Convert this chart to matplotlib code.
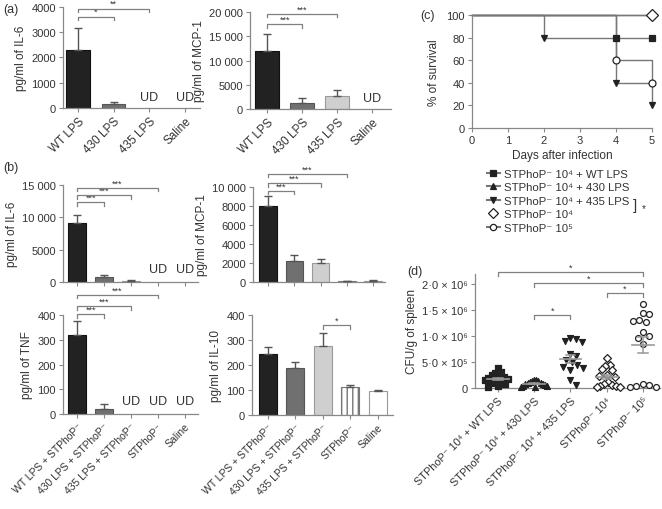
import numpy as np
import matplotlib
matplotlib.use("Agg")
import matplotlib.pyplot as plt
from matplotlib.lines import Line2D

plt.rcParams['font.family'] = ['Liberation Sans', 'DejaVu Sans']
plt.rcParams['font.size'] = 8

# ---------------- data ----------------
a_labels = ['WT LPS', '430 LPS', '435 LPS', 'Saline']
a_il6 = [2300, 150, 0, 0]
a_il6_err = [850, 80, 0, 0]
a_il6_ud = [False, False, True, True]
a_mcp1 = [11900, 1200, 2700, 80]
a_mcp1_err = [3600, 1100, 1300, 0]
a_mcp1_ud = [False, False, False, True]

b_labels = ['WT LPS + STPhoP\u207b', '430 LPS + STPhoP\u207b', '435 LPS + STPhoP\u207b',
            'STPhoP\u207b', 'Saline']
b_il6 = [9100, 800, 220, 0, 0]
b_il6_err = [1300, 300, 60, 0, 0]
b_il6_ud = [False, False, False, True, True]
b_mcp1 = [8000, 2200, 2000, 120, 150]
b_mcp1_err = [1100, 600, 400, 30, 30]
b_tnf = [318, 22, 0, 0, 0]
b_tnf_err = [57, 20, 0, 0, 0]
b_tnf_ud = [False, False, True, True, True]
b_il10 = [243, 190, 278, 112, 96]
b_il10_err = [30, 23, 52, 8, 4]

surv_labels = ['STPhoP\u207b 10\u2074 + WT LPS', 'STPhoP\u207b 10\u2074 + 430 LPS',
               'STPhoP\u207b 10\u2074 + 435 LPS', 'STPhoP\u207b 10\u2074', 'STPhoP\u207b 10\u2075']
surv_days = [[0, 4, 5], [0, 5], [0, 2, 4, 5], [0, 5], [0, 4, 5]]
surv_pct = [[100, 80, 80], [100, 100], [100, 80, 40, 20], [100, 100], [100, 60, 40]]

d_labels = ['STPhoP\u207b 10\u2074 + WT LPS', 'STPhoP\u207b 10\u2074 + 430 LPS',
            'STPhoP\u207b 10\u2074 + 435 LPS', 'STPhoP\u207b 10\u2074', 'STPhoP\u207b 10\u2075']
# CFU/g of spleen, in units of 10^6
d_wt = [0.39, 0.30, 0.29, 0.25, 0.22, 0.20, 0.19, 0.17, 0.15, 0.13, 0.11, 0.09, 0.07, 0.04, 0.01]
d_430 = [0.15, 0.15, 0.14, 0.13, 0.12, 0.10, 0.10, 0.08, 0.07, 0.05, 0.04, 0.03, 0.02, 0.01]
d_435 = [0.97, 0.94, 0.90, 0.88, 0.65, 0.62, 0.55, 0.50, 0.44, 0.41, 0.39, 0.34, 0.15, 0.06]
d_p4 = [0.57, 0.45, 0.43, 0.36, 0.34, 0.26, 0.23, 0.21, 0.12, 0.08, 0.05, 0.04, 0.03, 0.02, 0.01]
d_p5 = [1.63, 1.44, 1.42, 1.31, 1.30, 1.28, 1.08, 1.00, 0.97, 0.84, 0.08, 0.05, 0.04, 0.02, 0.02]

# ---------------- layout helpers ----------------
W, H = 662, 510
fig = plt.figure(figsize=(W / 100, H / 100), dpi=100)


def box(l, t, r, b):
    return [l / W, 1 - b / H, (r - l) / W, (b - t) / H]


AX_COL = '#888888'
TXT_COL = '#333333'
BR_COL = '#808080'


def style(ax):
    for s in ['top', 'right']:
        ax.spines[s].set_visible(False)
    for s in ['left', 'bottom']:
        ax.spines[s].set_color(AX_COL)
        ax.spines[s].set_linewidth(0.9)
    ax.tick_params(colors=AX_COL, labelcolor=TXT_COL, length=3, width=0.8, labelsize=8, pad=2)


bar_colors = ['#222222', '#707070', '#cfcfcf', 'white', 'white']
edge_colors = ['#111111', '#555555', '#999999', '#777777', '#999999']
hatches = [None, None, None, '|||', None]


def bar_panel(rect, vals, errs, ymax, ticks, ticklabels, ylabel, xlim, width,
              labels=None, ud=None, ud_y=None, color_idx=None, xl_size=8.5):
    ax = fig.add_axes(rect)
    style(ax)
    n = len(vals)
    x = np.arange(n)
    ci = color_idx if color_idx is not None else list(range(n))
    for i in range(n):
        if ud is not None and ud[i] and vals[i] == 0:
            continue
        ax.bar(x[i], vals[i], width, color=bar_colors[ci[i]], edgecolor=edge_colors[ci[i]],
               hatch=hatches[ci[i]], linewidth=0.8, zorder=2)
        if errs[i] > 0:
            ax.errorbar(x[i], vals[i], yerr=[[0], [errs[i]]], fmt='none', ecolor='#555555',
                        elinewidth=1, capsize=3, capthick=1, zorder=3)
    if ud is not None:
        for i in range(n):
            if ud[i]:
                ax.text(x[i], ud_y, 'UD', ha='center', va='center', fontsize=9, color=TXT_COL)
    ax.set_xlim(*xlim)
    ax.set_ylim(0, ymax)
    ax.set_yticks(ticks)
    ax.set_yticklabels(ticklabels)
    ax.set_xticks(x)
    if labels is not None:
        ax.set_xticklabels(labels, rotation=45, ha='right', rotation_mode='anchor', fontsize=xl_size)
    else:
        ax.set_xticklabels([])
    ax.set_ylabel(ylabel, fontsize=8.5, color=TXT_COL, labelpad=3)
    return ax


def bracket(ax, x1, x2, y, txt, px_h, drop_px=3.5):
    ylo, yhi = ax.get_ylim()
    d = drop_px / px_h * (yhi - ylo)
    ax.plot([x1, x1, x2, x2], [y - d, y, y, y - d], color=BR_COL, lw=0.9, clip_on=False, zorder=4)
    ax.text((x1 + x2) / 2, y + d * 0.2, txt, ha='center', va='bottom', fontsize=6.5,
            color=TXT_COL, clip_on=False)


# ---------------- (a) ----------------
ax = bar_panel(box(63, 7.5, 200, 109), a_il6, a_il6_err, 4000, [0, 1000, 2000, 3000, 4000],
               ['0', '1000', '2000', '3000', '4000'], 'pg/ml of IL-6', (-0.42, 3.42), 0.65,
               labels=a_labels, ud=a_il6_ud, ud_y=430, color_idx=[0, 1, 2, 4])
bracket(ax, 0, 1, 3600, '*', 101.5)
bracket(ax, 0, 2, 3920, '**', 101.5)

ax = bar_panel(box(250, 13, 391, 110), a_mcp1, a_mcp1_err, 20000, [0, 5000, 10000, 15000, 20000],
               ['0', '5000', '10 000', '15 000', '20 000'], 'pg/ml of MCP-1', (-0.49, 3.54), 0.69,
               labels=a_labels, ud=a_mcp1_ud, ud_y=2300, color_idx=[0, 1, 2, 4])
bracket(ax, 0, 1, 17500, '***', 97)
bracket(ax, 0, 2, 19600, '***', 97)

# ---------------- (b) ----------------
ax = bar_panel(box(63, 186, 198, 283), b_il6, b_il6_err, 15000, [0, 5000, 10000, 15000],
               ['0', '5000', '10 000', '15 000'], 'pg/ml of IL-6', (-0.53, 4.5), 0.66,
               ud=b_il6_ud, ud_y=2000)
bracket(ax, 0, 1, 12370, '***', 97)
bracket(ax, 0, 2, 13450, '***', 97)
bracket(ax, 0, 3, 14540, '***', 97)

ax = bar_panel(box(253, 188, 385, 283), b_mcp1, b_mcp1_err, 10000, [0, 2000, 4000, 6000, 8000, 10000],
               ['0', '2000', '4000', '6000', '8000', '10 000'], 'pg/ml of MCP-1', (-0.57, 4.45), 0.66)
bracket(ax, 0, 1, 9580, '***', 95)
bracket(ax, 0, 2, 10420, '***', 95)
bracket(ax, 0, 3, 11370, '***', 95)

ax = bar_panel(box(63, 316, 198, 415), b_tnf, b_tnf_err, 400, [0, 100, 200, 300, 400],
               ['0', '100', '200', '300', '400'], 'pg/ml of TNF', (-0.53, 4.5), 0.66,
               labels=b_labels, ud=b_tnf_ud, ud_y=52, xl_size=7.5)
bracket(ax, 0, 1, 404, '***', 99)
bracket(ax, 0, 2, 436, '***', 99)
bracket(ax, 0, 3, 481, '***', 99)

ax = bar_panel(box(252, 316, 393, 416), b_il10, b_il10_err, 400, [0, 100, 200, 300, 400],
               ['0', '100', '200', '300', '400'], 'pg/ml of IL-10', (-0.58, 4.55), 0.65,
               labels=b_labels, xl_size=7.5)
bracket(ax, 2, 3, 360, '*', 100)

# ---------------- (c) survival ----------------
axc = fig.add_axes(box(472, 16, 652, 129))
style(axc)
markers = ['s', '^', 'v', 'D', 'o']
mfc = ['#222222', '#222222', '#222222', 'white', 'white']
msz = [4.5, 4.5, 4.5, 6, 5]
order = [4, 0, 2, 1, 3]
for i in order:
    dd = np.array(surv_days[i])
    pp = np.array(surv_pct[i])
    axc.step(dd, pp, where='post', color='#777777', lw=1, zorder=2, clip_on=False)
    axc.plot(dd[1:], pp[1:], ls='none', marker=markers[i], mfc=mfc[i], mec='#222222',
             ms=msz[i], mew=0.9, zorder=3, clip_on=False)
axc.set_xlim(0, 5)
axc.set_ylim(0, 100)
axc.set_xticks(range(6))
axc.set_yticks(range(0, 101, 20))
axc.set_xlabel('Days after infection', fontsize=8.5, color=TXT_COL, labelpad=3)
axc.set_ylabel('% of survival', fontsize=8.5, color=TXT_COL, labelpad=5)
handles = []
for i in range(5):
    ls = 'none' if i == 3 else '-'
    handles.append(Line2D([], [], color='#777777', ls=ls, marker=markers[i], mfc=mfc[i],
                          mec='#222222', ms=msz[i] * 0.9, mew=0.9))
fig.legend(handles, surv_labels, loc='upper left', bbox_to_anchor=(487 / W, 1 - 170 / H),
           frameon=False, handlelength=1.1, handletextpad=0.4, labelspacing=0.3,
           fontsize=8.2, borderaxespad=0, borderpad=0, labelcolor=TXT_COL)
fig.text(633 / W, 1 - 206 / H, ']', fontsize=11, color=TXT_COL, ha='left', va='center')
fig.text(642 / W, 1 - 209 / H, '*', fontsize=7, color=TXT_COL, ha='left', va='center')

# ---------------- (d) CFU ----------------
d_box = (475, 275, 660, 389)
axd = fig.add_axes(box(*d_box))
style(axd)
groups = [d_wt, d_430, d_435, d_p4, d_p5]
dmark = ['s', '^', 'v', 'D', 'o']
dfc = ['#222222', '#222222', '#222222', 'white', 'white']
D_XLIM = (-0.63, 4.47)
D_YMAX = 2.2e6
px_per_x = (d_box[2] - d_box[0]) / (D_XLIM[1] - D_XLIM[0])
px_per_y = (d_box[3] - d_box[1]) / D_YMAX


def beeswarm(vals_abs, dx=6.5, dy=8.0, step=1.0, max_px=13.0):
    # deterministic beeswarm layout computed in pixel space, then compressed to max width
    y = np.asarray(vals_abs) * px_per_y
    order = np.argsort(-y, kind='stable')
    placed = []
    off = np.zeros(len(y))
    for i in order:
        k = 0
        while True:
            cands = [0.0] if k == 0 else [k * step, -k * step]
            found = None
            for c in cands:
                if all(((c - px) / dx) ** 2 + ((y[i] - py) / dy) ** 2 >= 1 for px, py in placed):
                    found = c
                    break
            if found is not None:
                off[i] = found
                placed.append((found, y[i]))
                break
            k += 1
    span = np.abs(off).max()
    if span > max_px:
        off = off * max_px / span
    return off / px_per_x


for g, vals in enumerate(groups):
    v = np.asarray(vals) * 1e6
    off = beeswarm(v)
    axd.scatter(g + off, v, marker=dmark[g], s=18 if dmark[g] != 'D' else 16,
                facecolor=dfc[g], edgecolor='#222222', linewidth=0.9, zorder=3, clip_on=False)
    m = v.mean()
    se = v.std(ddof=1) / np.sqrt(len(v))
    axd.plot([g - 0.3, g + 0.3], [m, m], color='#999999', lw=1.2, zorder=4)
    axd.plot([g - 0.13, g + 0.13], [m + se, m + se], color='#999999', lw=1.1, zorder=4)
    axd.plot([g - 0.13, g + 0.13], [m - se, m - se], color='#999999', lw=1.1, zorder=4)
    axd.plot([g, g], [m - se, m + se], color='#999999', lw=1.1, zorder=4)
axd.set_xlim(*D_XLIM)
axd.set_ylim(0, D_YMAX)
axd.set_yticks([0, 0.5e6, 1.0e6, 1.5e6, 2.0e6])
axd.set_yticklabels(['0', '5\u00b70 \u00d7 10\u2075', '1\u00b70 \u00d7 10\u2076',
                     '1\u00b75 \u00d7 10\u2076', '2\u00b70 \u00d7 10\u2076'])
axd.set_xticks(range(5))
axd.set_xticklabels(d_labels, rotation=45, ha='right', rotation_mode='anchor', fontsize=7.8)
axd.set_ylabel('CFU/g of spleen', fontsize=8.5, color=TXT_COL, labelpad=3)
bracket(axd, 0, 4, 2.23e6, '*', 114)
bracket(axd, 1, 4, 2.02e6, '*', 114)
bracket(axd, 3, 4, 1.83e6, '*', 114)
bracket(axd, 1, 2, 1.40e6, '*', 114)

# ---------------- panel letters ----------------
for txt, xx, yy in [('(a)', 3, 10), ('(b)', 3, 168), ('(c)', 420, 16), ('(d)', 407, 272)]:
    fig.text(xx / W, 1 - yy / H, txt, fontsize=9, color=TXT_COL, ha='left', va='center')

fig.savefig('out.png', dpi=100)
